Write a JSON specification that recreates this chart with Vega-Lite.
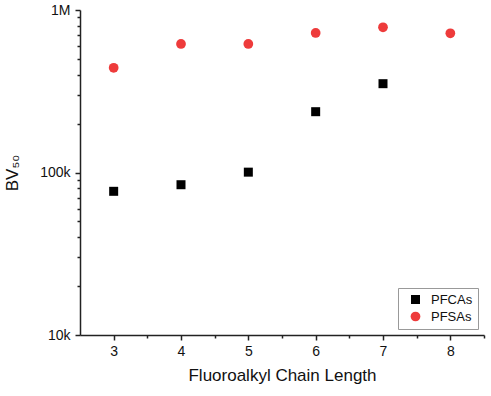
{
  "$schema": "https://vega.github.io/schema/vega-lite/v6.json",
  "width": 404,
  "height": 325,
  "autosize": {"type": "none"},
  "padding": {"left": 80, "top": 10, "right": 7, "bottom": 61},
  "background": "white",
  "config": {
    "view": {"stroke": null},
    "font": "Liberation Sans",
    "axis": {
      "domainColor": "#222222",
      "tickColor": "#222222",
      "labelColor": "#111111",
      "titleColor": "#111111",
      "labelFont": "Liberation Sans",
      "titleFont": "Liberation Sans",
      "labelFontSize": 14,
      "titleFontSize": 17,
      "titleFontWeight": "normal",
      "domainWidth": 1.5,
      "tickWidth": 1.5,
      "grid": false
    }
  },
  "data": {
    "values": [
      {"length": 3, "series": "PFCAs", "bv50": 76600},
      {"length": 4, "series": "PFCAs", "bv50": 84100},
      {"length": 5, "series": "PFCAs", "bv50": 100500},
      {"length": 6, "series": "PFCAs", "bv50": 236700},
      {"length": 7, "series": "PFCAs", "bv50": 352000},
      {"length": 3, "series": "PFSAs", "bv50": 441000},
      {"length": 4, "series": "PFSAs", "bv50": 618000},
      {"length": 5, "series": "PFSAs", "bv50": 618000},
      {"length": 6, "series": "PFSAs", "bv50": 722000},
      {"length": 7, "series": "PFSAs", "bv50": 783000},
      {"length": 8, "series": "PFSAs", "bv50": 719000}
    ]
  },
  "mark": {"type": "point", "filled": true, "opacity": 1, "strokeWidth": 0},
  "encoding": {
    "x": {
      "field": "length",
      "type": "quantitative",
      "scale": {"domain": [2.5, 8.5], "nice": false, "zero": false},
      "axis": {
        "title": "Fluoroalkyl Chain Length",
        "values": [3, 3.5, 4, 4.5, 5, 5.5, 6, 6.5, 7, 7.5, 8, 8.5],
        "labelExpr": "datum.value % 1 == 0 ? format(datum.value, 'd') : ''",
        "tickSize": {"condition": {"test": "datum.value % 1 == 0", "value": 5}, "value": 3},
        "labelPadding": 4,
        "titlePadding": 9,
        "labelOverlap": false,
        "labelFlush": false
      }
    },
    "y": {
      "field": "bv50",
      "type": "quantitative",
      "scale": {"type": "log", "domain": [10000, 1000000], "nice": false},
      "axis": {
        "title": "BV₅₀",
        "values": [10000, 20000, 30000, 40000, 50000, 60000, 70000, 80000, 90000, 100000, 200000, 300000, 400000, 500000, 600000, 700000, 800000, 900000, 1000000],
        "labelExpr": "datum.value == 10000 ? '10k' : datum.value == 100000 ? '100k' : datum.value == 1000000 ? '1M' : ''",
        "tickSize": {"condition": {"test": "indexof([10000, 100000, 1000000], datum.value) >= 0", "value": 5}, "value": 3},
        "labelPadding": 5,
        "titlePadding": 18,
        "labelOverlap": false,
        "labelFlush": false
      }
    },
    "shape": {
      "field": "series",
      "type": "nominal",
      "scale": {"domain": ["PFCAs", "PFSAs"], "range": ["square", "circle"]},
      "legend": null
    },
    "color": {
      "field": "series",
      "type": "nominal",
      "scale": {"domain": ["PFCAs", "PFSAs"], "range": ["#000000", "#EE3B3B"]},
      "legend": {
        "title": null,
        "orient": "bottom-right",
        "offset": 6,
        "padding": 5,
        "strokeColor": "#999999",
        "fillColor": "white",
        "labelFont": "Liberation Sans",
        "labelFontSize": 13,
        "labelColor": "#111111",
        "symbolSize": 90,
        "symbolStrokeWidth": 0,
        "rowPadding": 3,
        "labelOffset": 9,
        "symbolOffset": 6
      }
    },
    "size": {
      "field": "series",
      "type": "nominal",
      "scale": {"domain": ["PFCAs", "PFSAs"], "range": [81, 95]},
      "legend": null
    }
  }
}
